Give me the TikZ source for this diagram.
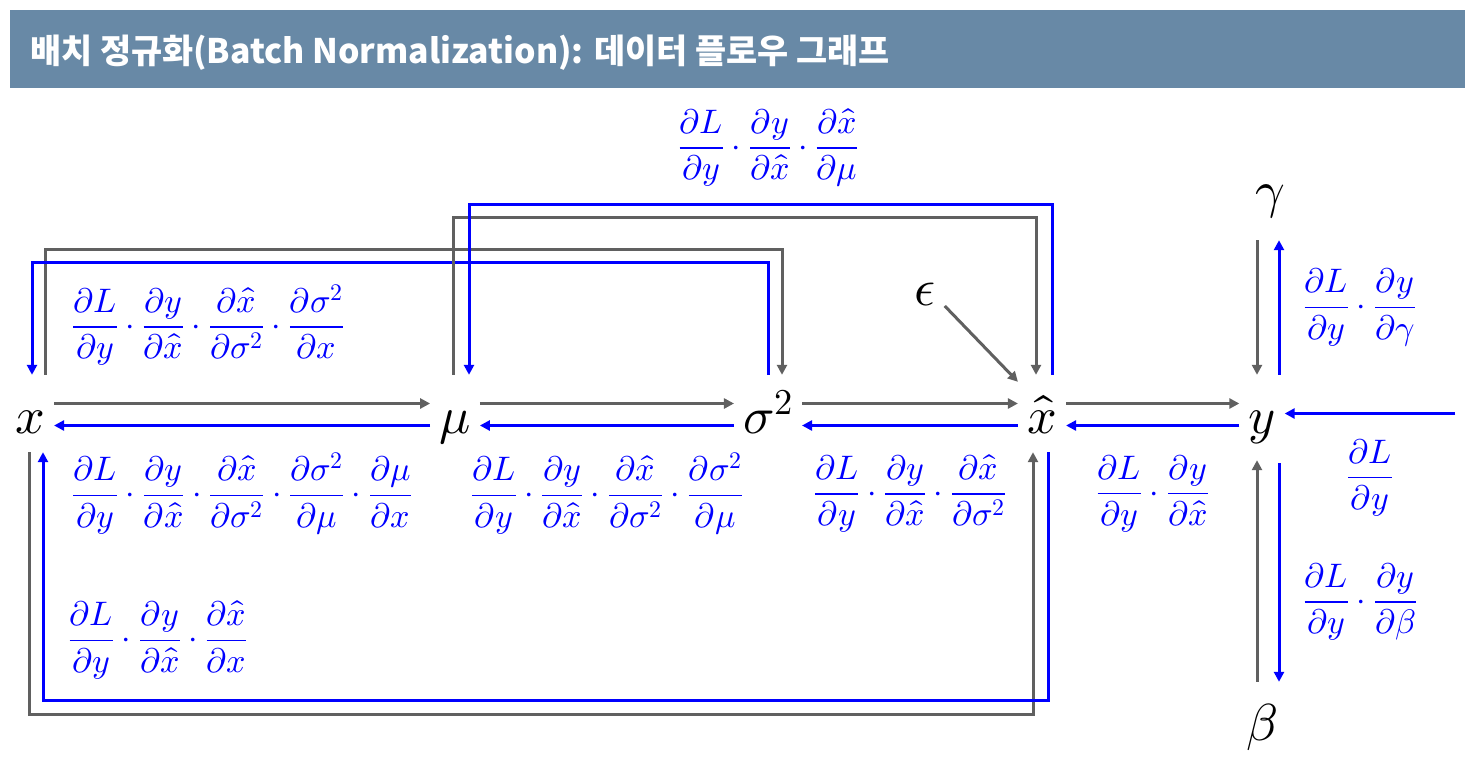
\documentclass[tikz,border=0pt]{standalone}
\usepackage{amsmath}
\usepackage{fontspec}
\usepackage{unicode-math}
\usepackage{xcolor}
\usepackage{tikz}
\usetikzlibrary{arrows.meta, positioning, calc}

\newfontfamily\krfont{Noto Sans CJK KR}
\definecolor{titlebar}{HTML}{6889A6}
\definecolor{fwdgray}{HTML}{606060}
\newcommand{\partfrac}[2]{\dfrac{\partial #1}{\partial #2}}

\begin{document}
\begin{tikzpicture}[
    x=1pt, y=-1pt,
    var/.style={font=\fontsize{52}{60}\selectfont, text height=39pt, text depth=0pt, inner xsep=9pt, inner ysep=19pt, anchor=base},
    grad/.style={text=blue, inner sep=0pt, font=\fontsize{34}{40}\selectfont},
    fwd/.style={-{Triangle[length=10pt, width=10pt]}, line width=3pt, fwdgray},
    bwd/.style={-{Triangle[length=10pt, width=10pt]}, line width=3pt, blue},
]
\useasboundingbox (0,0) rectangle (1478,761);

% Title
\fill[titlebar] (10,10) rectangle (1465,88);
\node[anchor=base west, inner sep=0pt, text=white, font=\krfont\bfseries\fontsize{33.8}{40}\selectfont] (title) at (30,63) {배치 정규화(Batch Normalization): 데이터 플로우 그래프};

% Variables
\node[var] (x) at (30,433) {$x$};
\node[var] (mu) at (455,433) {$\mu$};
\node[var] (s2) at (768,433) {$\sigma^2$};
\node[var] (xh) at (1042,433) {$\hat{x}$};
\node[var] (y) at (1262,433) {$y$};
\node[var] (gamma) at (1270,207) {$\gamma$};
\node[var] (beta) at (1262,740) {$\beta$};
\node[var] (eps) at (925,305) {$\epsilon$};

% Forward pass
\draw[fwd] ([yshift=10]x.east) -- ([yshift=10]mu.west);
\draw[fwd] ([yshift=10]mu.east) -- ([yshift=10]s2.west);
\draw[fwd] ([yshift=10]s2.east) -- ([yshift=10]xh.west);
\draw[fwd] ([yshift=10]xh.east) -- ([yshift=10]y.west);
\draw[fwd] (eps) -- ([yshift=-7]xh.north west);

% Backward pass
\draw[bwd] ([yshift=-12]mu.west) -- ([yshift=-12]x.east)
    node[grad, midway, yshift=-68] (gx1) {$\partfrac{L}{y}\cdot\partfrac{y}{\hat{x}}\cdot\partfrac{\hat{x}}{\sigma^2}\cdot\partfrac{\sigma^2}{\mu}\cdot\partfrac{\mu}{x}$};
\draw[bwd] ([yshift=-12]s2.west) -- ([yshift=-12]mu.east)
    node[grad, midway, yshift=-68] (gmu1) {$\partfrac{L}{y}\cdot\partfrac{y}{\hat{x}}\cdot\partfrac{\hat{x}}{\sigma^2}\cdot\partfrac{\sigma^2}{\mu}$};
\draw[bwd] ([yshift=-12]xh.west) -- ([yshift=-12]s2.east)
    node[grad, midway, yshift=-68] (gs2) {$\partfrac{L}{y}\cdot\partfrac{y}{\hat{x}}\cdot\partfrac{\hat{x}}{\sigma^2}$};
\draw[bwd] ([yshift=-12]y.west) -- ([yshift=-12]xh.east)
    node[grad, midway, yshift=-68] (gxh) {$\partfrac{L}{y}\cdot\partfrac{y}{\hat{x}}$};
\coordinate (loss) at (1455,413.5);
\draw[bwd] (loss) -- (y.east)
    node[grad, midway, yshift=-64] (gy) {$\partfrac{L}{y}$};

% gamma and beta
\coordinate (yn1) at ([xshift=-5]y.north);
\coordinate (yn2) at ([xshift=17]y.north);
\coordinate (ys1) at ([xshift=-5]y.south);
\coordinate (ys2) at ([xshift=17]y.south);
\draw[fwd, shorten <=14pt] (gamma.south -| yn1) -- (yn1);
\draw[bwd, shorten >=14pt] (yn2) -- (gamma.south -| yn2)
    node[grad, midway, right=23pt, yshift=-7] (ggamma) {$\partfrac{L}{y}\cdot\partfrac{y}{\gamma}$};
\draw[fwd, shorten >=8pt] (beta.north -| ys1) -- (ys1);
\draw[bwd, shorten <=11pt] (ys2) -- (beta.north -| ys2)
    node[grad, midway, right=23pt, yshift=-35] (gbeta) {$\partfrac{L}{y}\cdot\partfrac{y}{\beta}$};

% Loops over the top
\draw[fwd] ([xshift=15]x.north) -- ++(0,-125) -| ([xshift=14]s2.north);
\draw[bwd] (s2.north) -- ++(0,-112) -| ([xshift=2]x.north);
\node[grad] (gx2) at (208,325) {$\partfrac{L}{y}\cdot\partfrac{y}{\hat{x}}\cdot\partfrac{\hat{x}}{\sigma^2}\cdot\partfrac{\sigma^2}{x}$};
\draw[fwd] ([xshift=-2]mu.north) -- ++(0,-157) -| ([xshift=-6]xh.north);
\draw[bwd] ([xshift=10]xh.north) -- ++(0,-170) -| ([xshift=14]mu.north)
    node[grad, pos=0.25, yshift=57, xshift=8] (gmu2) {$\partfrac{L}{y}\cdot\partfrac{y}{\hat{x}}\cdot\partfrac{\hat{x}}{\mu}$};

% Loop underneath
\draw[fwd] ([xshift=-1]x.south) -- ++(0,262) -| ([xshift=-9]xh.south);
\draw[bwd] ([xshift=6]xh.south) -- ++(0,248) -| ([xshift=13]x.south);
\node[grad] (gx3) at (158,640) {$\partfrac{L}{y}\cdot\partfrac{y}{\hat{x}}\cdot\partfrac{\hat{x}}{x}$};

\end{tikzpicture}
\end{document}
